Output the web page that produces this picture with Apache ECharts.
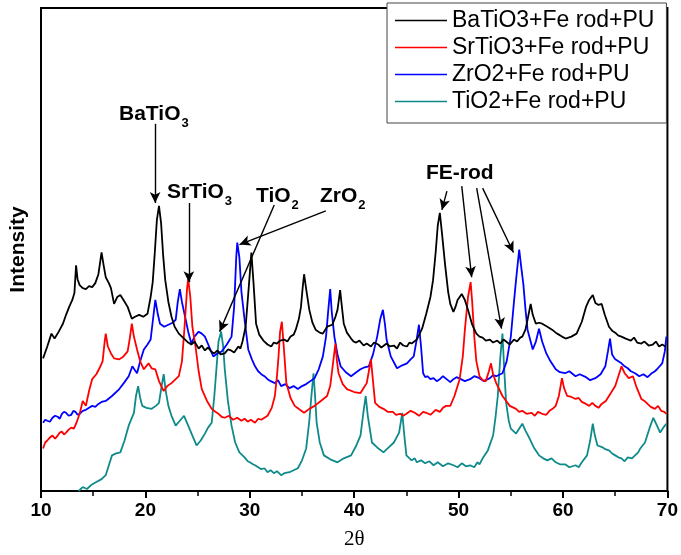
<!DOCTYPE html>
<html>
<head>
<meta charset="utf-8">
<script src="https://cdn.jsdelivr.net/npm/echarts@6/dist/echarts.min.js"></script>
<style>
  html, body { margin: 0; padding: 0; background: #fff; }
  #chart { width: 681px; height: 555px; }
</style>
</head>
<body>
<div id="chart"></div>
<script>
// XRD patterns, [2theta, intensity (a.u.)]
const seriesNames = ["BaTiO3+Fe rod+PU", "SrTiO3+Fe rod+PU", "ZrO2+Fe rod+PU", "TiO2+Fe rod+PU"];
const seriesColors = ["#000000", "#ff0000", "#0000ff", "#0f8a8a"];
const xTicks = [10, 20, 30, 40, 50, 60, 70];

const baTiO3 = [
  [10.2,134],[10.6,146],[11.0,159],[11.3,154],[11.7,161],[12.1,169],[12.4,178],[12.7,186],[13.0,193],[13.2,200],
  [13.36,228],[13.5,214],[13.7,208],[14.0,205],[14.3,204],[14.6,207],[14.9,206],[15.2,210],[15.5,219],[15.8,241],
  [16.0,228],[16.2,216],[16.5,210],[16.7,205],[17.0,189],[17.3,196],[17.6,198],[17.9,193],[18.3,186],[18.7,174],
  [19.0,176],[19.4,178],[19.8,176],[20.2,179],[20.5,196],[20.7,211],[20.9,241],[21.1,274],[21.3,288],[21.5,271],
  [21.7,238],[21.9,213],[22.2,191],[22.5,176],[22.8,166],[23.2,159],[23.5,156],[23.8,153],[24.1,150],[24.4,148],
  [24.7,151],[25.1,144],[25.4,147],[25.7,142],[26.0,145],[26.3,141],[26.6,139],[26.9,142],[27.2,138],[27.6,139],
  [27.9,143],[28.2,142],[28.5,140],[28.9,146],[29.1,144],[29.3,151],[29.6,166],[29.9,206],[30.15,241],
  [30.35,211],[30.6,169],[30.9,158],[31.3,152],[31.7,148],[32.05,146],[32.3,150],[32.6,149],[32.9,152],[33.3,153],
  [33.6,151],[33.9,156],[34.2,158],[34.4,163],
  [34.7,174],[34.9,186],[35.05,204],[35.2,219],[35.4,204],[35.7,183],[36.0,170],[36.3,163],[36.7,160],[37.0,159],
  [37.4,166],[37.9,168],[38.2,176],[38.4,183],[38.65,203],[38.8,188],[39.0,169],[39.3,160],[39.7,154],[39.95,151],
  [40.2,150],[40.5,152],[40.9,147],[41.2,149],[41.6,146],[41.9,150],[42.3,148],[42.6,145],[43.1,149],[43.4,146],
  [43.8,147],[44.1,144],[44.4,150],[44.7,147],[45.05,146],[45.3,150],[45.5,149],[45.75,151],[46.0,153],[46.5,164],
  [46.9,179],[47.3,196],[47.55,213],[47.8,241],[48.0,268],[48.2,281],[48.4,261],[48.7,229],[49.0,201],[49.2,189],
  [49.5,181],[49.7,186],[49.9,193],[50.3,199],[50.6,193],[50.9,183],[51.3,168],[51.7,159],[52.0,156],[52.3,155],
  [52.6,152],[53.0,153],[53.3,150],[53.7,152],[54.0,149],[54.3,153],[54.55,151],[54.9,148],[55.3,153],[55.6,151],
  [55.9,155],[56.1,156],[56.4,163],[56.6,173],[56.9,189],[57.1,178],[57.4,169],[57.7,170],
  [58.0,169],[58.5,166],[58.95,163],[59.3,160],[59.6,158],[59.9,156],[60.25,154],[60.8,156],[61.3,159],[61.8,171],
  [62.2,186],[62.5,193],[62.85,198],[63.1,190],[63.4,188],[63.7,189],[64.0,178],[64.4,166],[64.7,162],[65.0,160],
  [65.3,157],[65.6,156],[66.0,154],[66.5,152],[66.8,155],[67.1,150],[67.5,149],[67.8,151],[68.2,147],[68.6,148],
  [68.9,151],[69.2,146],[69.5,148],[69.8,146]
];

const srTiO3 = [
  [10.2,43],[10.4,49],[10.6,51],[10.85,54],[11.1,56],[11.35,53],[11.6,56],[11.8,59],[12.0,60],[12.2,57],
  [12.4,59],[12.65,62],[12.9,64],[13.15,63],[13.4,69],[13.7,78],[14.0,91],
  [14.3,86],[14.6,101],[14.9,113],[15.3,118],[15.6,124],[15.9,131],[16.1,151],[16.2,159],[16.4,146],[16.7,139],
  [17.0,134],[17.5,133],[17.9,136],[18.3,141],[18.5,154],[18.7,169],[18.9,156],[19.2,143],[19.5,131],[19.85,123],
  [20.3,129],[20.6,124],[20.95,123],[21.3,111],[21.75,101],[22.1,106],[22.5,109],[22.9,113],[23.2,116],[23.5,131],
  [23.75,166],[24.0,206],[24.1,214],[24.3,196],[24.5,166],[24.8,146],[25.1,121],[25.4,103],[25.9,91],[26.35,83],
  [26.7,80],[27.0,78],[27.3,75],[27.6,74],[28.0,76],[28.4,72],[28.8,74],[29.2,71],[29.5,73],[29.8,70],
  [30.1,72],[30.5,69],[30.8,73],[31.1,72],[31.4,74],[31.7,76],[32.1,84],[32.4,96],
  [32.6,116],[32.75,136],[32.9,161],[33.07,171],[33.25,146],[33.5,109],[33.9,94],[34.3,86],[34.8,82],[35.2,79],
  [35.7,83],[36.2,86],[36.8,91],[37.4,96],[37.7,106],[37.9,123],[38.05,136],[38.2,149],[38.35,131],[38.5,119],
  [38.9,108],[39.3,103],[40.0,100],[40.6,99],[40.9,104],[41.2,109],[41.4,121],[41.6,133],[41.8,111],[42.0,89],
  [42.4,85],[42.8,83],[43.2,80],[43.7,80],[44.0,77],[44.4,78],[44.7,76],[45.0,78],[45.4,81],[45.8,79],
  [46.2,76],[46.6,80],[46.9,79],[47.3,77],[47.8,82],[48.2,80],[48.5,84],[48.8,86],[49.2,86],
  [49.6,96],[50.1,113],[50.4,136],[50.6,163],[50.9,196],[51.15,211],[51.3,191],[51.5,156],[51.7,131],[52.0,116],
  [52.3,112],[52.6,111],[52.9,121],[53.1,129],[53.3,118],[53.6,109],[54.2,96],[54.9,86],[55.5,83],[55.8,80],
  [56.1,81],[56.5,78],[57.0,79],[57.3,76],[57.6,80],[58.0,78],[58.4,77],[58.7,81],[59.0,83],[59.3,86],
  [59.6,96],[59.9,114],[60.1,104],[60.4,96],[60.8,95],[61.2,93],[61.5,94],[61.8,90],[62.2,88],[62.5,86],
  [62.8,89],[63.1,86],[63.4,84],[63.7,88],[64.1,91],[64.4,96],[65.0,106],[65.3,116],[65.6,126],[65.9,119],
  [66.3,114],[66.7,116],[67.0,106],[67.5,93],[67.8,91],[68.1,88],[68.4,85],[68.8,83],[69.1,86],[69.4,81],
  [69.7,80],[69.9,78]
];

const zrO2 = [
  [10.2,69],[10.4,72],[10.6,71],[10.85,70],[11.1,74],[11.35,76],[11.6,75],[11.8,73],[12.0,78],[12.2,80],
  [12.4,79],[12.65,76],[12.9,77],[13.1,81],[13.3,80],[13.5,77],[13.7,78],[14.0,81],[14.3,82],[14.6,84],
  [14.9,86],[15.2,85],[15.5,88],[15.8,90],[16.2,91],[16.8,96],[17.5,103],[18.0,110],[18.4,116],[18.75,126],
  [19.0,122],[19.2,119],
  [19.5,131],[19.85,143],[20.2,148],[20.5,153],[20.7,171],[20.95,193],[21.2,178],[21.4,169],[21.8,166],[22.2,168],
  [22.6,170],[22.9,173],[23.1,191],[23.3,204],[23.5,191],[23.8,176],[24.1,161],[24.4,149],[24.7,156],[25.1,161],
  [25.4,159],[25.7,156],[26.1,146],[26.5,136],[26.9,139],[27.3,141],[27.8,148],[28.25,156],[28.5,186],[28.7,236],
  [28.8,251],[29.0,236],[29.2,201],[29.5,173],[29.85,143],[30.2,133],[30.5,126],[30.8,121],[31.1,118],[31.4,116],
  [31.7,113],[32.0,111],[32.4,109],[32.7,112],[33.0,106],[33.4,108],[33.8,104],[34.2,106],[34.6,103],[35.0,106],
  [35.4,108],[35.8,111],[36.2,114],[36.6,123],[37.0,136],[37.3,156],[37.5,181],[37.7,204],
  [37.85,181],[38.1,156],[38.4,138],[38.7,126],[39.2,120],[39.7,116],[40.2,120],[40.6,123],[41.0,125],[41.4,126],
  [41.8,138],[42.2,156],[42.5,174],[42.75,183],[42.95,168],[43.1,153],[43.5,136],[44.1,124],[44.6,127],[45.05,129],
  [45.4,133],[45.7,136],[45.95,151],[46.2,168],[46.4,146],[46.6,119],[46.8,115],[47.0,116],[47.3,113],[47.6,114],
  [47.9,111],[48.2,113],[48.5,116],[48.85,113],[49.2,110],[49.5,113],[49.8,115],[50.2,113],[50.6,111],[51.1,113],
  [51.5,116],[52.0,114],[52.4,111],[53.0,114],[53.3,117],[53.6,116],[54.2,119],[54.6,131],[55.0,156],[55.3,191],
  [55.5,213],[55.8,244],[56.0,226],[56.2,209],[56.4,184],[56.6,163],[57.1,143],[57.4,151],[57.7,164],[58.0,151],
  [58.4,139],[58.8,131],[59.3,123],[59.7,120],[60.2,119],[60.6,121],[61.2,116],[61.6,118],[62.2,115],[62.6,112],
  [63.1,114],[63.6,118],[64.05,126],[64.3,141],
  [64.5,154],[64.7,138],[65.0,133],[65.6,129],[65.9,126],[66.2,124],[66.5,121],[66.9,119],[67.3,116],[67.7,118],
  [68.1,115],[68.5,119],[68.8,121],[69.0,123],[69.5,129],[69.75,141],[69.9,156]
];

const tiO2 = [
  [13.6,0],[14.0,4],[14.4,2],[14.8,6],[15.3,9],[15.8,12],[16.2,16],[16.5,26],[16.8,36],[17.2,38],
  [17.6,39],[18.0,51],[18.4,66],[18.9,79],[19.1,96],[19.3,106],[19.5,94],[19.7,86],[20.1,84],[20.6,83],
  [21.0,86],[21.3,89],[21.55,106],[21.75,118],[21.95,101],[22.2,86],[22.5,76],[22.9,66],[23.3,71],[23.7,76],
  [24.1,66],[24.5,56],[24.9,46],[25.3,51],[25.7,58],[26.0,64],[26.35,69],[26.6,96],[26.8,123],[27.0,151],
  [27.25,161],[27.45,146],[27.6,123],[27.9,91],[28.25,66],[28.6,49],[29.0,39],[29.5,34],[29.8,30],[30.0,29],
  [30.3,27],[30.5,26],[30.8,24],[31.1,22],[31.4,23],[31.7,19],[32.0,21],[32.3,18],[32.6,20],[33.0,16],
  [33.3,18],[33.8,19],[34.2,21],[34.6,23],[35.0,31],[35.4,43],[35.7,71],[35.9,96],
  [36.1,119],[36.25,96],[36.4,69],[36.7,49],[37.1,36],[37.7,32],[38.4,29],[39.0,33],[39.7,36],[40.2,46],
  [40.6,56],[40.9,81],[41.1,96],[41.3,76],[41.7,49],[42.2,44],[42.8,39],[43.3,44],[43.8,49],[44.3,59],
  [44.6,79],[44.8,56],[45.0,36],[45.3,33],[45.5,31],[45.8,33],[46.0,29],[46.4,31],[46.8,28],[47.2,30],
  [47.6,26],[48.0,29],[48.5,25],[49.0,28],[49.5,26],[49.9,24],[50.3,28],[50.7,25],[51.1,26],[51.5,24],
  [51.8,29],[52.0,27],[52.3,33],[52.8,41],[53.3,56],[53.55,76],[53.75,96],[54.0,136],[54.2,159],[54.35,126],
  [54.55,89],[54.8,71],[55.0,63],[55.5,58],[56.1,68],[56.4,61],[56.8,53],[57.2,44],[57.7,36],[58.1,33],
  [58.5,31],[58.9,33],[59.3,29],[59.7,27],[60.2,27],[60.6,24],[61.2,26],[61.5,24],[61.8,29],[62.3,36],
  [62.6,51],[62.85,68],[63.05,56],[63.3,46],[63.8,44],[64.1,42],[64.4,41],[64.7,38],[65.0,36],[65.3,34],
  [65.6,33],[65.9,30],[66.2,34],[66.6,33],[66.9,36],[67.2,39],[67.4,43],[67.85,49],[68.3,64],[68.65,74],
  [69.0,66],[69.3,59],[69.6,64],[69.9,68]
];

// annotation arrows: [from, to] in data coords
const peakArrows = [
  [[20.93, 371], [20.93, 291]],
  [[24.16, 291], [24.16, 211]],
  [[32.34, 289], [27.11, 161]],
  [[37.28, 283], [29.01, 249]],
  [[48.88, 303], [48.40, 284]],
  [[50.30, 308], [51.25, 216]],
  [[51.73, 306], [54.11, 164]],
  [[52.30, 306], [55.25, 241]]
];

const allData = [baTiO3, srTiO3, zrO2, tiO2];

let myChart = echarts.init(document.getElementById("chart"), null, { renderer: "canvas" });

const labelFont = "Liberation Sans";
function label(x, y, main, sub) {
  const items = [{
    type: "text", x: x, y: y,
    style: { text: main, font: "bold 21px 'Liberation Sans'", fill: "#000", textVerticalAlign: "middle" }
  }];
  if (sub) {
    items.push({
      type: "text", x: x + 0, y: y + 9, z: 10,
      style: { text: sub, font: "bold 13px 'Liberation Sans'", fill: "#000", textVerticalAlign: "middle" },
      subOf: main
    });
  }
  return items;
}

let series = allData.map((d, i) => ({
  name: seriesNames[i],
  type: "line",
  data: d,
  symbol: "none",
  smooth: false,
  lineStyle: { color: seriesColors[i], width: 1.8 },
  itemStyle: { color: seriesColors[i] },
  animation: false,
  z: 4 - i
}));

series[0].markLine = {
  silent: true,
  animation: false,
  symbol: ["none", "arrow"],
  symbolSize: [8, 11],
  lineStyle: { color: "#000", width: 1.4, type: "solid" },
  label: { show: false },
  data: peakArrows.map(a => [
    { coord: a[0], symbol: "none" },
    { coord: a[1], symbol: "arrow" }
  ])
};

let option = {
  backgroundColor: "#fff",
  animation: false,
  grid: {
    left: 38, right: 12, top: 8, bottom: 59,
    show: true, borderColor: "#000", borderWidth: 2
  },
  legend: {
    orient: "vertical",
    left: 387, top: 3,
    backgroundColor: "#fff",
    borderColor: "#444",
    borderWidth: 1,
    padding: [6, 12, 10, 8],
    itemWidth: 52,
    itemHeight: 12,
    itemGap: 4,
    textStyle: { fontFamily: labelFont, fontSize: 23, color: "#000", lineHeight: 22 },
    data: seriesNames.map(n => ({ name: n, icon: "path://M0,0 L52,0 L52,1.4 L0,1.4 Z" }))
  },
  xAxis: {
    type: "value",
    min: 10, max: 70, interval: 10,
    name: "2θ",
    nameLocation: "middle",
    nameGap: 38,
    nameTextStyle: { fontFamily: "Liberation Serif", fontSize: 21, color: "#000" },
    axisLine: { lineStyle: { color: "#000", width: 2 } },
    axisTick: { show: true, inside: false, length: 7, lineStyle: { color: "#000", width: 2 } },
    minorTick: { show: true, splitNumber: 2, length: 5, lineStyle: { color: "#000", width: 1.5 } },
    axisLabel: {
      color: "#000", fontFamily: labelFont, fontWeight: "bold", fontSize: 19, margin: 10,
      formatter: v => xTicks.includes(v) ? String(v) : ""
    },
    splitLine: { show: false }
  },
  yAxis: {
    type: "value",
    min: 0, max: 488,
    name: "Intensity",
    nameLocation: "middle",
    nameGap: 12,
    nameRotate: 90,
    nameTextStyle: { fontFamily: labelFont, fontSize: 21, fontWeight: "bold", color: "#000" },
    axisLine: { show: true, lineStyle: { color: "#000", width: 2 } },
    axisTick: { show: false },
    axisLabel: { show: false },
    splitLine: { show: false }
  },
  graphic: [
    ...label(119, 114, "BaTiO", "3"),
    ...label(167, 192, "SrTiO", "3"),
    ...label(256, 196, "TiO", "2"),
    ...label(320, 196, "ZrO", "2"),
    { type: "text", x: 426, y: 173,
      style: { text: "FE-rod", font: "bold 21px 'Liberation Sans'", fill: "#000", textVerticalAlign: "middle" } }
  ],
  series: series
};

// place subscripts right after their main text
option.graphic.forEach((g, i) => {
  if (g.subOf) {
    const w = echarts.format.getTextRect
      ? echarts.format.getTextRect(g.subOf, "bold 21px 'Liberation Sans'").width
      : g.subOf.length * 13;
    g.x = option.graphic[i - 1].x + w + 1;
    delete g.subOf;
  }
});

myChart.setOption(option);
</script>
</body>
</html>
